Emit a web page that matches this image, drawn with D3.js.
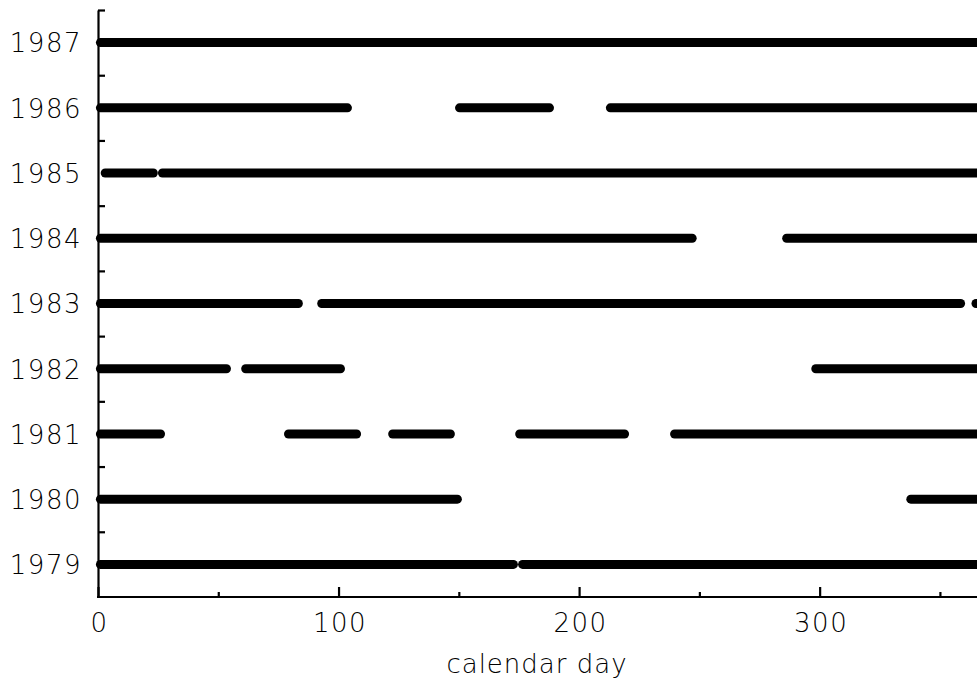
<!DOCTYPE html>
<html>
<head>
<meta charset="utf-8">
<script src="https://cdn.jsdelivr.net/npm/d3@7"></script>
<style>
    html, body { margin: 0; padding: 0; background: #fff; }
    svg { display: block; }
    .lbl { font-family: "DejaVu Sans", Lato, sans-serif; font-weight: 200; font-size: 26px; fill: #000; letter-spacing: 1.5px; }
</style>
</head>
<body>
<svg id="chart" width="977" height="685"></svg>
<script>
// =========================================================================
// Data: periods (calendar day start/end) per year
// =========================================================================

const years = [1979, 1980, 1981, 1982, 1983, 1984, 1985, 1986, 1987];

const spans1987 = [[1, 366]];
const spans1986 = [[1, 103.7], [150.3, 187.7], [213, 366]];
const spans1985 = [[3, 23], [26.8, 366]];
const spans1984 = [[1, 247], [286.3, 366]];
const spans1983 = [[1, 83.3], [93, 358.6], [365, 366]];
const spans1982 = [[1, 53.4], [61.4, 100.8], [298.4, 366]];
const spans1981 = [[1, 26], [79.2, 107.5], [122.5, 146.5], [175.3, 218.9], [239.7, 366]];
const spans1980 = [[1, 149.4], [337.9, 366]];
const spans1979 = [[1, 172.7], [176.5, 366]];

const xMajorTicks = [0, 100, 200, 300];
const xMinorTicks = [50, 150, 250, 350];
const yMinorTicks = [1979.5, 1980.5, 1981.5, 1982.5, 1983.5, 1984.5, 1985.5, 1986.5, 1987.5];
const xTitle = 'calendar day';

const spansByYear = [spans1979, spans1980, spans1981, spans1982, spans1983,
    spans1984, spans1985, spans1986, spans1987];

// =========================================================================
// Scales
// =========================================================================

const svg = d3.select('#chart');
const x = d3.scaleLinear().domain([0, 365]).range([98, 976]);
const y = d3.scaleLinear().domain([1978.5, 1987.5]).range([597, 10]);

// flatten into one list of segments
const segments = [];
years.forEach((yr, i) => {
    spansByYear[i].forEach(s => segments.push({ year: yr, start: s[0], end: s[1] }));
});

// =========================================================================
// Segments
// =========================================================================

svg.append('g')
    .selectAll('line')
    .data(segments)
    .join('line')
    .attr('x1', d => x(d.start))
    .attr('x2', d => x(d.end))
    .attr('y1', d => y(d.year))
    .attr('y2', d => y(d.year))
    .attr('stroke', '#000')
    .attr('stroke-width', 9)
    .attr('stroke-linecap', 'round');

// =========================================================================
// Axes
// =========================================================================

function styleAxis(g) {
    g.selectAll('path, line').attr('stroke', '#000').attr('stroke-width', 2.2);
    g.selectAll('text').attr('class', 'lbl').attr('fill', '#000').attr('font-family', null).attr('font-size', null);
}

// x axis, major ticks with labels (ticks point inward)
const xAxis = svg.append('g')
    .attr('transform', `translate(0,${y(1978.5)})`)
    .call(d3.axisBottom(x).tickValues(xMajorTicks).tickSizeInner(-10).tickSizeOuter(0).tickFormat(d3.format('d')))
    .call(styleAxis);
xAxis.select('.domain').attr('d', `M${x(0) - 1},0H977`);
xAxis.selectAll('text').attr('y', 35).attr('dy', null).attr('dx', '1px');

svg.append('g')
    .attr('transform', `translate(0,${y(1978.5)})`)
    .call(d3.axisBottom(x).tickValues(xMinorTicks).tickSizeInner(-5).tickSizeOuter(0).tickFormat(''))
    .call(styleAxis)
    .call(g => g.select('.domain').remove());

// y axis, year labels
const yAxis = svg.append('g')
    .attr('transform', `translate(${x(0)},0)`)
    .call(d3.axisLeft(y).tickValues(years).tickSize(0).tickPadding(16).tickFormat(d3.format('d')))
    .call(styleAxis);
yAxis.selectAll('text').attr('dy', '0.36em');

svg.append('g')
    .attr('transform', `translate(${x(0)},0)`)
    .call(d3.axisLeft(y).tickValues(yMinorTicks).tickSizeInner(-7).tickSizeOuter(0).tickFormat(''))
    .call(styleAxis)
    .call(g => g.select('.domain').remove());

// axis title
svg.append('text')
    .attr('class', 'lbl')
    .attr('x', 537)
    .attr('y', 673)
    .attr('text-anchor', 'middle')
    .style('letter-spacing', '1px')
    .text(xTitle);
</script>
</body>
</html>
